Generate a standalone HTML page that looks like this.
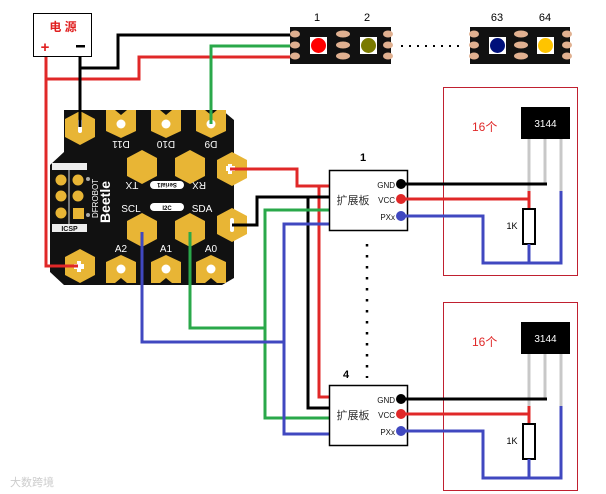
<!DOCTYPE html>
<html><head><meta charset="utf-8"><style>
html,body{margin:0;padding:0;background:#fff;}
svg{display:block;}
text{font-family:"Liberation Sans","Noto Sans CJK SC",sans-serif;}
</style></head><body>
<svg width="606" height="494" viewBox="0 0 606 494" xmlns="http://www.w3.org/2000/svg">
<defs>
<polygon id="hx" points="0,-17 15,-9 15,9 0,17 -15,9 -15,-9" fill="#e8b535"/>
<g id="pad"><polygon points="-15,-14 -6,-14 0,-9 6,-14 15,-14 15,7 0,14 -15,7" fill="#e8b535"/><circle r="4.5" fill="#fff"/></g>
<g id="padb"><polygon points="-15,-7 0,-14 15,-7 15,14 6,14 0,9 -6,14 -15,14" fill="#e8b535"/><circle r="4.5" fill="#fff"/></g>
</defs>

<!-- power box -->
<rect x="33.5" y="13.5" width="58" height="43" fill="#fff" stroke="#000"/>
<text x="63" y="31" font-size="12" fill="#e02020" text-anchor="middle" font-weight="bold" font-family="Noto Serif CJK SC,serif">电 源</text>
<text x="45" y="52" font-size="15" fill="#e02020" text-anchor="middle" font-weight="bold">+</text>
<rect x="76" y="45" width="9" height="2.5" fill="#000"/>

<!-- board body -->
<polygon points="64,110 222,110 234,120 234,278 222,285 64,285 50,272 50,165 64,152" fill="#111"/>
<!-- ICSP -->
<rect x="52" y="163" width="35" height="7" fill="#eee"/>
<line x1="69" y1="170" x2="69" y2="224" stroke="#ddd" stroke-width="1"/>
<circle cx="61" cy="180" r="5.5" fill="#e8b535"/><circle cx="78" cy="180" r="5.5" fill="#e8b535"/>
<circle cx="61" cy="196" r="5.5" fill="#e8b535"/><circle cx="78" cy="196" r="5.5" fill="#e8b535"/>
<circle cx="61" cy="213" r="5.5" fill="#e8b535"/><rect x="73" y="208" width="11" height="11" fill="#e8b535"/>
<circle cx="88" cy="179" r="2" fill="#aaa"/><circle cx="88" cy="215" r="2" fill="#aaa"/>
<rect x="52" y="224" width="35" height="8" fill="#eee"/>
<text x="69.5" y="231" font-size="7" font-weight="bold" text-anchor="middle" fill="#111">ICSP</text>
<text transform="translate(98,218) rotate(-90)" font-size="8" fill="#fff">DFROBOT</text>
<text transform="translate(110,223) rotate(-90)" font-size="14" font-weight="bold" fill="#fff">Beetle</text>

<!-- pads -->
<use href="#hx" x="80" y="128"/><rect x="78" y="119" width="4" height="14" rx="2" fill="#fff"/>
<use href="#pad" x="121" y="124"/><use href="#pad" x="166" y="124"/><use href="#pad" x="211" y="124"/>
<use href="#hx" x="142" y="167"/><use href="#hx" x="190" y="167"/>
<use href="#hx" x="142" y="230"/><use href="#hx" x="190" y="230"/>
<use href="#hx" x="232" y="169"/><rect x="226" y="166" width="9" height="5" fill="#fff"/><rect x="228" y="164" width="4" height="10" fill="#fff"/>
<use href="#hx" x="232" y="225"/><rect x="230" y="218" width="4" height="14" rx="2" fill="#fff"/>
<use href="#hx" x="80" y="266"/><rect x="74" y="264" width="10" height="5" fill="#fff"/><rect x="77" y="261" width="4" height="11" fill="#fff"/>
<use href="#padb" x="121" y="269"/><use href="#padb" x="166" y="269"/><use href="#padb" x="211" y="269"/>
<g fill="#fff" font-size="10" text-anchor="middle">
<text transform="translate(121,141) rotate(180)">D11</text>
<text transform="translate(166,141) rotate(180)">D10</text>
<text transform="translate(211,141) rotate(180)">D9</text>
<text transform="translate(132,182) rotate(180)">TX</text>
<text transform="translate(199,182) rotate(180)">RX</text>
<text x="131" y="212">SCL</text><text x="202" y="212">SDA</text>
<text x="121" y="252">A2</text><text x="166" y="252">A1</text><text x="211" y="252">A0</text>
<text transform="translate(243,197) rotate(-90)">5V</text>
</g>
<rect x="150" y="181" width="34" height="8" rx="4" fill="#fff"/>
<text transform="translate(167,183) rotate(180)" font-size="6" font-weight="bold" text-anchor="middle">Serial1</text>
<rect x="150" y="203" width="34" height="8" rx="4" fill="#fff"/>
<text x="167" y="210" font-size="6" font-weight="bold" text-anchor="middle">I2C</text>

<!-- wires -->
<g fill="none" stroke-width="3">
<polyline points="46,57 46,266 78,266" stroke="#e02828"/>
<polyline points="46,79 139,79 139,57 292,57" stroke="#e02828"/>
<polyline points="80,56 80,127" stroke="#000"/>
<polyline points="80,68 118,68 118,35 292,35" stroke="#000"/>
<polyline points="211,124 211,46 292,46" stroke="#2aa84a"/>
<polyline points="230,169 297,169 297,186 329,186" stroke="#e02828"/>
<polyline points="319,186 319,397 329,397" stroke="#e02828"/>
<polyline points="232,225 257,225 257,197 329,197" stroke="#000"/>
<polyline points="308,197 308,408 329,408" stroke="#000"/>
<polyline points="190,232 190,328 265,328" stroke="#2aa84a"/>
<polyline points="329,210 265,210 265,418 329,418" stroke="#2aa84a"/>
<polyline points="142,232 142,342 284,342" stroke="#4048c0"/>
<polyline points="329,224 284,224 284,434 329,434" stroke="#4048c0"/>
</g>

<!-- LED strip -->
<g>
<rect x="290" y="27" width="101" height="37" fill="#111"/>
<rect x="470" y="27" width="100" height="37" fill="#111"/>
<g fill="#e0b090">
<ellipse cx="295" cy="34" rx="5" ry="3.5"/><ellipse cx="295" cy="45" rx="5" ry="3.5"/><ellipse cx="295" cy="56" rx="5" ry="3.5"/>
<ellipse cx="343" cy="34" rx="7" ry="3.5"/><ellipse cx="343" cy="45" rx="7" ry="3.5"/><ellipse cx="343" cy="56" rx="7" ry="3.5"/>
<ellipse cx="388" cy="34" rx="5" ry="3.5"/><ellipse cx="388" cy="45" rx="5" ry="3.5"/><ellipse cx="388" cy="56" rx="5" ry="3.5"/>
<ellipse cx="474" cy="34" rx="5" ry="3.5"/><ellipse cx="474" cy="45" rx="5" ry="3.5"/><ellipse cx="474" cy="56" rx="5" ry="3.5"/>
<ellipse cx="521" cy="34" rx="7" ry="3.5"/><ellipse cx="521" cy="45" rx="7" ry="3.5"/><ellipse cx="521" cy="56" rx="7" ry="3.5"/>
<ellipse cx="567" cy="34" rx="5" ry="3.5"/><ellipse cx="567" cy="45" rx="5" ry="3.5"/><ellipse cx="567" cy="56" rx="5" ry="3.5"/>
</g>
<rect x="310" y="37" width="17" height="17" fill="#fff"/><circle cx="318.5" cy="45.5" r="7.5" fill="#f00"/>
<rect x="360" y="37" width="17" height="17" fill="#fff"/><circle cx="368.5" cy="45.5" r="7.5" fill="#7a7a00"/>
<rect x="489" y="37" width="17" height="17" fill="#fff"/><circle cx="497.5" cy="45.5" r="7.5" fill="#00107a"/>
<rect x="537" y="37" width="17" height="17" fill="#fff"/><circle cx="545.5" cy="45.5" r="7.5" fill="#ffc400"/>
<g font-size="11" text-anchor="middle"><text x="317" y="21">1</text><text x="367" y="21">2</text><text x="497" y="21">63</text><text x="545" y="21">64</text></g>
<g fill="#000"><rect x="401" y="45" width="2" height="2"/><rect x="409" y="45" width="2" height="2"/><rect x="417" y="45" width="2" height="2"/><rect x="425" y="45" width="2" height="2"/><rect x="433" y="45" width="2" height="2"/><rect x="441" y="45" width="2" height="2"/><rect x="449" y="45" width="2" height="2"/><rect x="457" y="45" width="2" height="2"/></g>
</g>

<!-- dotted vertical -->
<line x1="367" y1="244" x2="367" y2="378" stroke="#000" stroke-width="2.5" stroke-dasharray="2.5,8.5"/>

<!-- ext boards + sensor boxes -->
<g id="unit">
<rect x="329.5" y="170.5" width="78" height="60" fill="#fff" stroke="#000" stroke-width="1.5"/>
<text x="353" y="204" font-size="11" text-anchor="middle" fill="#333" font-family="Noto Serif CJK SC,serif">扩展板</text>
<g font-size="8" text-anchor="end" fill="#111"><text x="395" y="188">GND</text><text x="395" y="203">VCC</text><text x="395" y="220">PXx</text></g>
<rect x="443.5" y="87.5" width="134" height="188" fill="none" stroke="#c02030"/>
<text x="472" y="131" font-size="12" fill="#e02828">16个</text>
<rect x="521" y="107" width="49" height="32" fill="#000"/>
<text x="545.5" y="127" font-size="10" fill="#fff" text-anchor="middle">3144</text>
<g stroke="#c8c8c8" stroke-width="3"><line x1="529" y1="139" x2="529" y2="191"/><line x1="545" y1="139" x2="545" y2="184"/><line x1="561" y1="139" x2="561" y2="191"/></g>
<polyline points="401,184 547,184" stroke="#000" stroke-width="3" fill="none"/>
<polyline points="401,199 529,199" stroke="#e02828" stroke-width="3" fill="none"/>
<line x1="529" y1="191" x2="529" y2="209" stroke="#e02828" stroke-width="3"/>
<rect x="523" y="209" width="12" height="35" fill="#fff" stroke="#000" stroke-width="2"/>
<text x="512" y="229" font-size="9" text-anchor="middle">1K</text>
<polyline points="401,216 483,216 483,263 561,263 561,191" stroke="#4048c0" stroke-width="3" fill="none"/>
<line x1="529" y1="244" x2="529" y2="263" stroke="#4048c0" stroke-width="3"/>
<circle cx="401" cy="184" r="5" fill="#000"/><circle cx="401" cy="199" r="5" fill="#e02828"/><circle cx="401" cy="216" r="5" fill="#4048c0"/>
</g>
<use href="#unit" x="0" y="215"/>
<text x="363" y="161" font-size="11" font-weight="bold" text-anchor="middle">1</text>
<text x="346" y="378" font-size="11" font-weight="bold" text-anchor="middle">4</text>

<text x="10" y="486" font-size="11" fill="#ccc">大数跨境</text>
</svg>
</body></html>
